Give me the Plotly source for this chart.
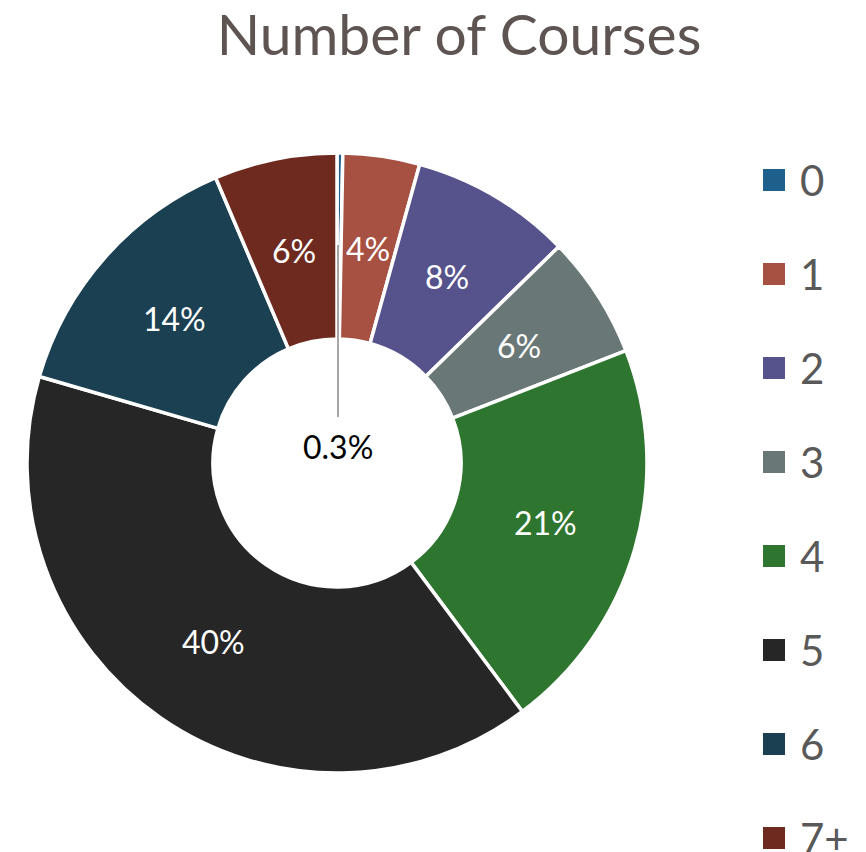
import math
import plotly.graph_objects as go

categories = ["0", "1", "2", "3", "4", "5", "6", "7+"]
values = [0.3, 4.0, 8.4, 6.4, 20.7, 39.7, 14.1, 6.4]
colors = ["#1F5F8B", "#A65142", "#55528C", "#697777", "#2E7630", "#262626", "#1B4052", "#6E2A1F"]

# body margin is removed below, so the figure fills the whole window
W, H = 866, 852
def px(x):
    return x / W
def py(y):
    return 1 - y / H

def fmt(v):
    return f"{v:.0f}%" if v >= 1 else f"{v:.1f}%"

font_family = "Lato, 'Open Sans', sans-serif"

# pie geometry (window pixels)
CX, CY, R = 337, 463, 310
HOLE = 0.40
R_MID = R * (1 + HOLE) / 2

fig = go.Figure()
fig.add_trace(go.Pie(
    labels=categories,
    values=values,
    textinfo="none",
    hoverinfo="label+percent",
    marker=dict(colors=colors, line=dict(color="white", width=3.5)),
    hole=HOLE,
    sort=False,
    direction="clockwise",
    rotation=0,
    showlegend=False,
    domain=dict(x=[px(CX - R), px(CX + R)], y=[py(CY + R), py(CY - R)]),
))

# slice labels at ring middle along each slice bisector (from data)
total = sum(values)
cum = 0.0
for v in values:
    frac = (cum + v / 2) / total
    cum += v
    if v < 1:
        continue
    th = 2 * math.pi * frac
    x = CX + R_MID * math.sin(th)
    y = CY - R_MID * math.cos(th)
    fig.add_annotation(x=px(x), y=py(y), xref="paper", yref="paper",
                       text=fmt(v), showarrow=False, xanchor="center", yanchor="middle",
                       font=dict(color="white", size=32, family=font_family))

# small-slice label with leader line
for i, v in enumerate(values):
    if v >= 1:
        continue
    fig.add_shape(type="line", xref="paper", yref="paper",
                  x0=px(338), x1=px(338), y0=py(245), y1=py(417),
                  line=dict(color="#A6A6A6", width=2))
    fig.add_annotation(x=px(338), y=py(446), xref="paper", yref="paper",
                       text=fmt(v), showarrow=False, xanchor="center", yanchor="middle",
                       font=dict(color="black", size=32, family=font_family))

# legend (manual)
for i, (c, col) in enumerate(zip(categories, colors)):
    yc = 180 + 94 * i
    fig.add_shape(type="rect", xref="paper", yref="paper",
                  x0=px(763), x1=px(785), y0=py(yc - 11), y1=py(yc + 11),
                  fillcolor=col, line=dict(width=0))
    fig.add_annotation(x=px(798), y=py(yc), xref="paper", yref="paper",
                       text=c, showarrow=False, xanchor="left", yanchor="middle",
                       font=dict(color="#595959", size=42, family=font_family))

fig.update_layout(
    width=W, height=H,
    margin=dict(l=0, r=0, t=0, b=0),
    paper_bgcolor="white",
    plot_bgcolor="white",
    title=dict(text="Number of Courses", x=px(459), y=py(35), xanchor="center", yanchor="middle",
               font=dict(color="#5E5553", size=57, family=font_family)),
)

fig.write_html("out.html",
               config={"displayModeBar": False},
               post_script="document.body.style.margin='0';document.body.style.overflow='hidden';")
